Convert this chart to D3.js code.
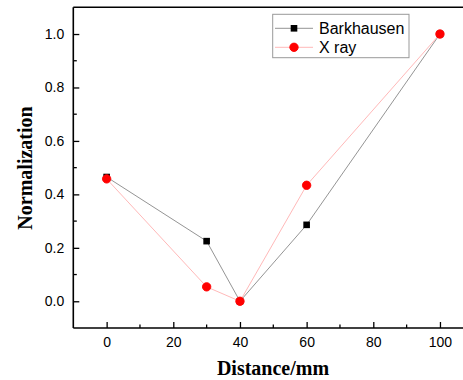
<!DOCTYPE html>
<html><head><meta charset="utf-8">
<script src="https://cdn.jsdelivr.net/npm/d3@7"></script>
<style>body{margin:0;background:#fff}svg{display:block}</style>
</head><body>
<script>
const distances = [0, 30, 40, 60, 100];
const barkhausen = [0.465, 0.225, 0.0, 0.286, 1.0];
const xray = [0.458, 0.054, 0.0, 0.434, 1.0];
const seriesNames = ["Barkhausen", "X ray"];
const xTicks = [0, 20, 40, 60, 80, 100];
const yTicks = [0.0, 0.2, 0.4, 0.6, 0.8, 1.0];

const W = 463, H = 380;
const svg = d3.select("body").append("svg").attr("width", W).attr("height", H);
const L = 73.3, T = 7.3, B = 328;
const x = d3.scaleLinear().domain([-10, 110]).range([L, L + 120 * 3.3333]);
const y = d3.scaleLinear().domain([-0.1, 1.1]).range([B, T]);

// frame
svg.append("line").attr("x1", L).attr("x2", W + 5).attr("y1", T).attr("y2", T).attr("stroke", "#000").attr("stroke-width", 1.6);

const xAxis = d3.axisBottom(x).tickValues(xTicks).tickSizeInner(-6).tickSizeOuter(0).tickPadding(9).tickFormat(d3.format("d"));
const gx = svg.append("g").attr("transform", `translate(0,${B})`).call(xAxis);
const yAxis = d3.axisLeft(y).tickValues(yTicks).tickSizeInner(-6).tickSizeOuter(0).tickPadding(9).tickFormat(d3.format(".1f"));
const gy = svg.append("g").attr("transform", `translate(${L},0)`).call(yAxis);
[gx, gy].forEach(g => {
  g.select(".domain").attr("stroke-width", 1.6);
  g.selectAll(".tick line").attr("stroke-width", 1.3);
  g.selectAll("text").attr("font-family", "Liberation Sans, Arial, sans-serif").attr("font-size", 14).attr("fill", "#000");
});
gy.select(".domain").attr("d", `M0,${B}V${T}`);
gx.select(".domain").attr("d", `M${L},0H${W + 5}`);
// minor ticks
const xMinor = d3.range(-10, 111, 10).filter(v => !xTicks.includes(v) && v > -10);
svg.append("g").selectAll("line").data(xMinor).join("line")
  .attr("x1", d => x(d)).attr("x2", d => x(d)).attr("y1", B).attr("y2", B - 3.5)
  .attr("stroke", "#000").attr("stroke-width", 1.3);
const yMinor = [-0.1, 0.1, 0.3, 0.5, 0.7, 0.9].filter(v => v > -0.1);
svg.append("g").selectAll("line").data(yMinor).join("line")
  .attr("x1", L).attr("x2", L + 3.5).attr("y1", d => y(d)).attr("y2", d => y(d))
  .attr("stroke", "#000").attr("stroke-width", 1.3);

// axis titles
svg.append("text").attr("x", 273).attr("y", 375).attr("text-anchor", "middle")
  .attr("font-family", "Liberation Serif, Times New Roman, serif").attr("font-weight", "bold").attr("font-size", 20)
  .text("Distance/mm");
svg.append("text").attr("transform", "translate(32,168) rotate(-90)").attr("text-anchor", "middle")
  .attr("font-family", "Liberation Serif, Times New Roman, serif").attr("font-weight", "bold").attr("font-size", 20)
  .text("Normalization");

const line = d3.line().x((d, i) => x(distances[i])).y(d => y(d));
svg.append("path").datum(barkhausen).attr("d", line).attr("fill", "none").attr("stroke", "#888").attr("stroke-width", 0.9);
svg.append("path").datum(xray).attr("d", line).attr("fill", "none").attr("stroke", "#ffb0b0").attr("stroke-width", 0.9);
svg.append("g").selectAll("rect").data(barkhausen).join("rect")
  .attr("x", (d, i) => x(distances[i]) - 3.3).attr("y", d => y(d) - 3.3).attr("width", 6.6).attr("height", 6.6).attr("fill", "#000");
svg.append("g").selectAll("circle").data(xray).join("circle")
  .attr("cx", (d, i) => x(distances[i])).attr("cy", d => y(d)).attr("r", 4.2)
  .attr("fill", "#f00").attr("stroke", "#f00").attr("stroke-width", 0.9);

// legend
const lg = svg.append("g");
lg.append("rect").attr("x", 272.7).attr("y", 14.3).attr("width", 136.3).attr("height", 43.4)
  .attr("fill", "#fff").attr("stroke", "#999").attr("stroke-width", 1);
const rows = [{name: seriesNames[0], y: 28.3, stroke: "#888", mark: "sq"}, {name: seriesNames[1], y: 47.3, stroke: "#ffb0b0", mark: "ci"}];
rows.forEach(r => {
  lg.append("line").attr("x1", 275).attr("x2", 313).attr("y1", r.y).attr("y2", r.y).attr("stroke", r.stroke).attr("stroke-width", 0.9);
  if (r.mark === "sq") lg.append("rect").attr("x", 294 - 3.3).attr("y", r.y - 3.3).attr("width", 6.6).attr("height", 6.6).attr("fill", "#000");
  else lg.append("circle").attr("cx", 294).attr("cy", r.y).attr("r", 4.2).attr("fill", "#f00").attr("stroke", "#f00").attr("stroke-width", 0.9);
  lg.append("text").attr("x", 319).attr("y", r.y + 5.8).attr("font-family", "Liberation Sans, Arial, sans-serif").attr("font-size", 16).text(r.name);
});
</script>
</body></html>
